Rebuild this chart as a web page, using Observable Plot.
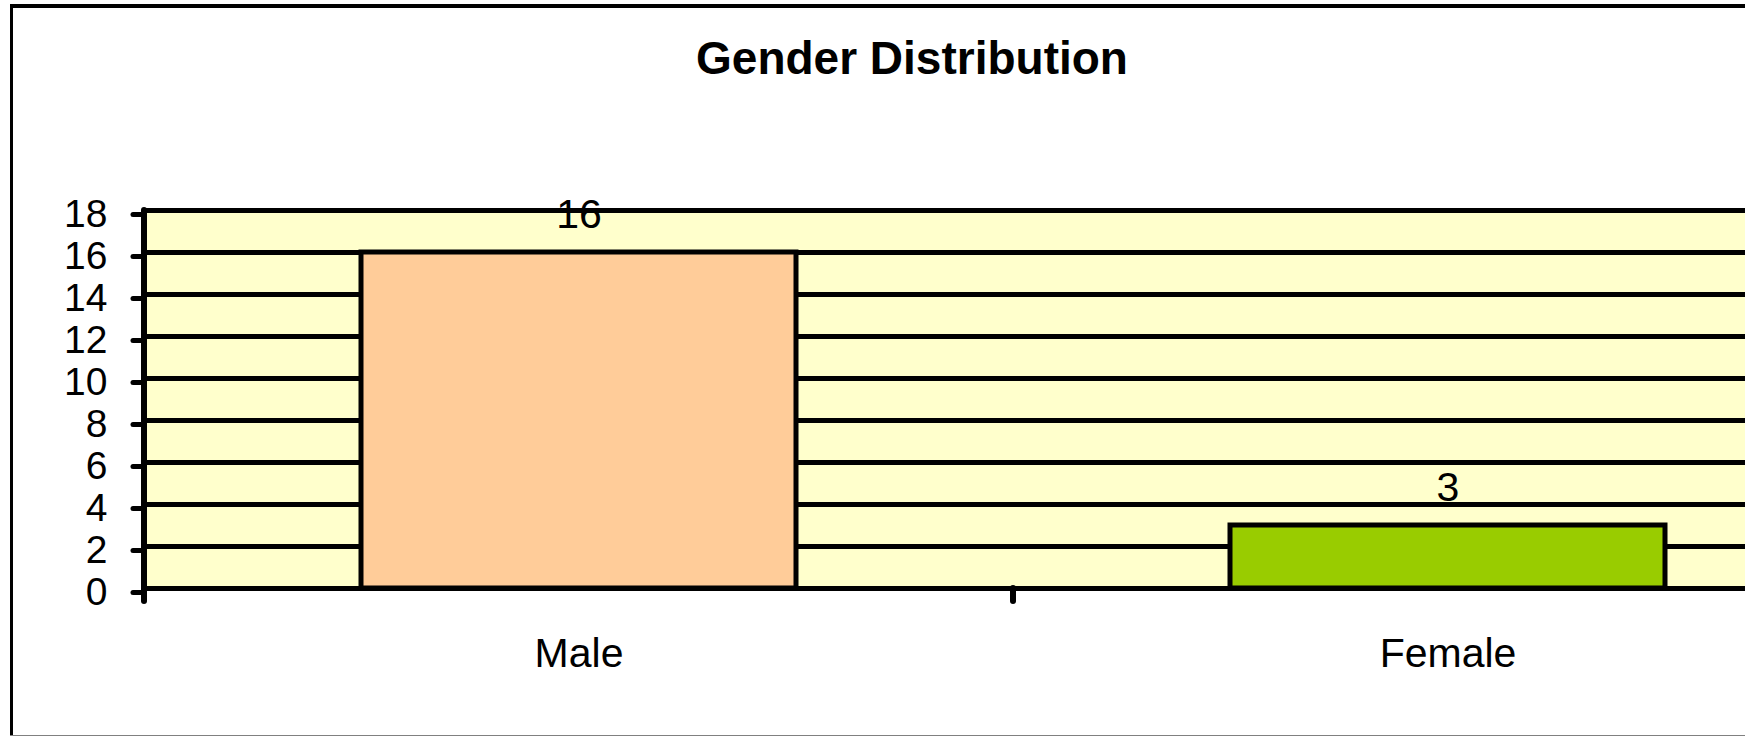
<!DOCTYPE html>
<html>
<head>
<meta charset="utf-8">
<script src="https://cdn.jsdelivr.net/npm/d3@7"></script>
<script src="https://cdn.jsdelivr.net/npm/@observablehq/plot@0.6"></script>
<style>
  html, body { margin: 0; padding: 0; background: white; overflow: hidden; width: 1745px; height: 736px; }
  #wrap { position: relative; width: 1745px; height: 736px; overflow: hidden; background: white; font-family: "Liberation Sans", Arial, sans-serif; }
  .ln { position: absolute; }
  #topline { left: 10px; top: 4px; width: 1735px; height: 4px; background: black; }
  #leftline { left: 10px; top: 4px; width: 3px; height: 732px; background: black; }
  #bottomline { left: 10px; top: 735px; width: 1735px; height: 1px; background: #808080; }
  #title { position: absolute; left: 912px; top: 35px; transform: translateX(-50%); white-space: nowrap;
           font-size: 46px; font-weight: bold; line-height: 46px; color: black; }
  #chart { position: absolute; left: 0; top: 130px; width: 1745px; height: 600px; overflow: hidden; }
  #chart svg { display: block; }
</style>
</head>
<body>
<div id="wrap">
  <div class="ln" id="topline"></div>
  <div class="ln" id="leftline"></div>
  <div class="ln" id="bottomline"></div>
  <div id="title">Gender Distribution</div>
  <div id="chart"></div>
</div>
<script>
const categories = ["Male", "Female"];
const counts = [16, 3];
const barColors = ["#FFCC99", "#99CC00"];
const yTicks = [0, 2, 4, 6, 8, 10, 12, 14, 16, 18];
const yMax = 18;

const data = categories.map((c, i) => ({category: c, count: counts[i]}));

function separators(index, scales) {
  const x = scales.x, y = scales.y;
  const step = x.step(), bw = x.bandwidth();
  const gap = (step - bw) / 2;
  const edges = categories.map(c => x(c) - gap);
  edges.push(x(categories[categories.length - 1]) + bw + gap);
  const g = d3.create("svg:g");
  g.selectAll("line").data(edges).join("line")
    .attr("x1", d => d).attr("x2", d => d)
    .attr("y1", (d, i) => i === 0 ? y(yMax) : y(0))
    .attr("y2", y(0) + 13)
    .attr("stroke", "black").attr("stroke-width", 6).attr("stroke-linecap", "round");
  return g.node();
}

const plot = Plot.plot({
  width: 1745,
  height: 600,
  marginTop: 80,
  marginBottom: 142,
  marginLeft: 144,
  marginRight: 0,
  style: {background: "transparent", fontFamily: "'Liberation Sans', Arial, sans-serif", color: "black", overflow: "hidden"},
  x: {domain: categories, range: [144, 1882], paddingInner: 0.5, paddingOuter: 0.25, label: null},
  y: {domain: [0, yMax], label: null},
  color: {domain: categories, range: barColors},
  marks: [
    Plot.frame({fill: "#FFFFCC", stroke: null}),
    Plot.ruleY(yTicks, {stroke: "black", strokeWidth: 5}),
    Plot.axisY({ticks: yTicks, tickSize: 11, tickPadding: 26, strokeWidth: 5, strokeLinecap: "round", fontSize: 39, dy: 4, label: null, fill: "black"}),
    separators,
    Plot.barY(data, {x: "category", y: "count", fill: "category", stroke: "black", strokeWidth: 5}),
    Plot.text(data, {x: "category", y: "count", text: d => String(d.count), dy: -38, fontSize: 41, fill: "black"}),
    Plot.axisX({tickSize: 0, tickPadding: 49, fontSize: 41, label: null, fill: "black"})
  ]
});
document.getElementById("chart").appendChild(plot);
</script>
</body>
</html>
